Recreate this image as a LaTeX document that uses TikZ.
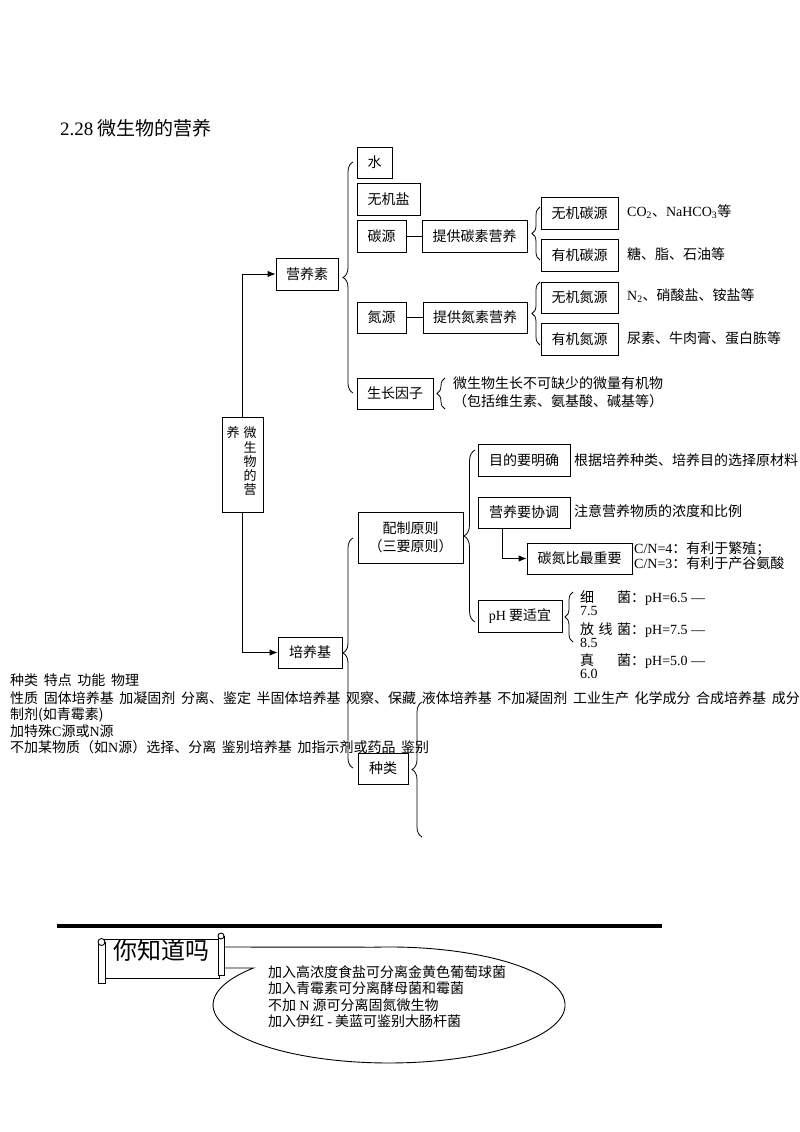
\documentclass[tikz,border=0pt]{standalone}
\usepackage{fontspec}
\setmainfont{Liberation Serif}
\newfontfamily\zhfont{Noto Sans CJK SC}
\usetikzlibrary{arrows.meta,decorations.pathreplacing}
\newcommand{\latn}[1]{{\rmfamily #1}}
\newcommand{\widespaces}{\spaceskip=5.6pt plus 1pt\relax}

\begin{document}
\begin{tikzpicture}[x=1pt, y=1pt,
                    every node/.style = {font=\zhfont\fontsize{14}{16}\selectfont, inner sep=0pt},
                    box/.style = {shape=rectangle, draw, line width=0.9pt, minimum height=31pt},
                    note/.style = {anchor=west, align=left},
                    loose/.style = {anchor=west, font=\zhfont\fontsize{14}{16}\selectfont\widespaces},
                    link/.style = {line width=0.9pt},
                    arr/.style = {line width=0.9pt, -{Latex[length=8pt,width=6.5pt]}},
                    curly/.style = {decorate, line width=0.8pt, decoration={brace, amplitude=#1}}]

  \fill[white] (0,0) rectangle (800,-1132);
  \useasboundingbox (0,0) rectangle (800,-1132);

  \node[anchor=west, font=\zhfont\fontsize{19}{22}\selectfont] (title) at (60,-128) {\latn{2.28} 微生物的营养};

  % root, written in two columns
  \node[box, minimum width=41pt, minimum height=95pt] (root) at (242.5,-464.5) {};
  \node[font=\zhfont\fontsize{13}{14}\selectfont] (rootl) at (233,-433) {养};
  \foreach \c [count=\i from 0] in {微,生,物,的,营}
    \node[font=\zhfont\fontsize{13}{14}\selectfont] (rootr\i) at (250,-433-14.25*\i) {\c};

  % nutrients
  \node[box, minimum width=62pt, minimum height=32pt] (yys) at (307,-274) {营养素};
  \node[box, minimum width=35pt] (shui) at (374.5,-162.5) {水};
  \node[box, minimum width=63pt, minimum height=32pt] (wjy) at (388.5,-199) {无机盐};
  \node[box, minimum width=49pt, minimum height=32pt] (ty) at (381.5,-236) {碳源};
  \node[box, minimum width=105pt, minimum height=32pt] (tgt) at (474.5,-236) {提供碳素营养};
  \node[box, minimum width=77pt, minimum height=32pt] (wjty) at (579.5,-213) {无机碳源};
  \node[box, minimum width=77pt, minimum height=32pt] (yjty) at (579.5,-255) {有机碳源};
  \node[note] (wjtyt) at (627,-212) {\latn{CO\textsubscript{2}}、\latn{NaHCO\textsubscript{3}}等};
  \node[note] (yjtyt) at (627,-254) {糖、脂、石油等};
  \node[box, minimum width=49pt] (dy) at (381.5,-317.5) {氮源};
  \node[box, minimum width=104pt] (tgd) at (475,-317.5) {提供氮素营养};
  \node[box, minimum width=77pt] (wjdy) at (579.5,-297.5) {无机氮源};
  \node[box, minimum width=77pt, minimum height=32pt] (yjdy) at (579.5,-339) {有机氮源};
  \node[note] (wjdyt) at (627,-296) {\latn{N\textsubscript{2}}、硝酸盐、铵盐等};
  \node[note] (yjdyt) at (627,-338) {尿素、牛肉膏、蛋白胨等};
  \node[box, minimum width=76pt] (szyz) at (395,-393.5) {生长因子};
  \node[note, font=\zhfont\fontsize{14}{18}\selectfont] (szyzt) at (453,-392)
    {微生物生长不可缺少的微量有机物\\（包括维生素、氨基酸、碱基等）};

  % media
  \node[box, minimum width=64pt] (pyj) at (310,-652.5) {培养基};
  \node[box, minimum width=105pt, minimum height=51pt, align=center,
        font=\zhfont\fontsize{14}{18}\selectfont] (pzyz) at (410.5,-537.5) {配制原则\\（三要原则）};
  \node[box, minimum width=92pt, minimum height=32pt] (mdy) at (524,-460) {目的要明确};
  \node[note] (mdyt) at (574,-460) {根据培养种类、培养目的选择原材料};
  \node[box, minimum width=92pt] (yyxt) at (524,-512.5) {营养要协调};
  \node[note] (yyxtt) at (574,-511) {注意营养物质的浓度和比例};
  \node[box, minimum width=105pt] (tdb) at (579.5,-558.5) {碳氮比最重要};
  \node[note, font=\zhfont\fontsize{14}{15}\selectfont] (tdbt) at (634,-556)
    {\latn{C/N=4}：有利于繁殖；\\\latn{C/N=3}：有利于产谷氨酸};
  \node[box, minimum width=84pt, minimum height=32pt] (ph) at (520,-616) {\latn{pH} 要适宜};
  \node[note, font=\zhfont\fontsize{14}{12.5}\selectfont] (phxj) at (580,-603)
    {\makebox[51pt][s]{细\hfill 菌}：\latn{pH=6.5 —}\\\latn{7.5}};
  \node[note, font=\zhfont\fontsize{14}{13.5}\selectfont] (phfx) at (580,-635)
    {\makebox[51pt][s]{放\hfill 线\hfill 菌}：\latn{pH=7.5 —}\\\latn{8.5}};
  \node[note, font=\zhfont\fontsize{14}{13}\selectfont] (phzj) at (580,-666.5)
    {\makebox[51pt][s]{真\hfill 菌}：\latn{pH=5.0 —}\\\latn{6.0}};
  \node[box, minimum width=50pt] (zl) at (383,-768.5) {种类};

  % connectors
  \draw[arr] (root.north) |- (yys.west);
  \draw[arr] (root.south) |- (pyj.west);
  \draw[link] (ty) -- (tgt);
  \draw[link] (dy) -- (tgd);
  \draw[arr] ([xshift=-22pt]yyxt.south) |- (tdb.west);

  % braces
  \draw[curly=10pt] (353,-393) -- (353,-162);
  \draw[curly=8pt] (540,-260) -- (540,-207);
  \draw[curly=8pt] (540,-345) -- (540,-282);
  \draw[curly=8pt] (445,-409) -- (445,-378);
  \draw[curly=10pt] (353,-768) -- (353,-538);
  \draw[curly=11pt] (475,-622) -- (475,-450);
  \draw[curly=8pt] (573,-642) -- (573,-592);
  \draw[curly=10pt] (422,-837) -- (422,-702);

  % loose lines of text over the tree
  \node[loose] (kind1) at (10,-680) {种类 特点 功能 物理};
  \node[loose] (kind2) at (10,-698) {性质 固体培养基 加凝固剂 分离、鉴定 半固体培养基 观察、保藏 液体培养基 不加凝固剂 工业生产 化学成分 合成培养基 成分};
  \node[loose] (kind3) at (10,-715) {制剂(如青霉素)};
  \node[loose] (kind4) at (10,-731) {加特殊\latn{C}源或\latn{N}源};
  \node[loose] (kind5) at (10,-747) {不加某物质（如\latn{N}源）选择、分离 鉴别培养基 加指示剂或药品 鉴别};

  % did you know
  \draw[line width=4pt] (57,-926) -- (662,-926);
  \draw[link, fill=white] (222,-947) -- (373.7,-947.2)
    arc[start angle=95, end angle=-219.6, x radius=176, y radius=58] -- (222,-968);
  \node[note, font=\zhfont\fontsize{14}{16.3}\selectfont] (know) at (268,-996.5)
    {加入高浓度食盐可分离金黄色葡萄球菌\\加入青霉素可分离酵母菌和霉菌\\不加 \latn{N} 源可分离固氮微生物\\加入伊红 \latn{-} 美蓝可鉴别大肠杆菌};
  \draw[link, fill=white] (104,-939) rectangle (219,-978);
  \draw[link, fill=white] (98,-942) rectangle (105,-983);
  \draw[link, fill=white] (101.5,-942) circle (3.5);
  \draw[link, fill=white] (218,-936) rectangle (224,-975);
  \draw[link, fill=white] (221,-936) circle (3);
  \node[font=\zhfont\fontsize{24}{26}\selectfont] (zdm) at (161,-950) {你知道吗};
\end{tikzpicture}
\end{document}
